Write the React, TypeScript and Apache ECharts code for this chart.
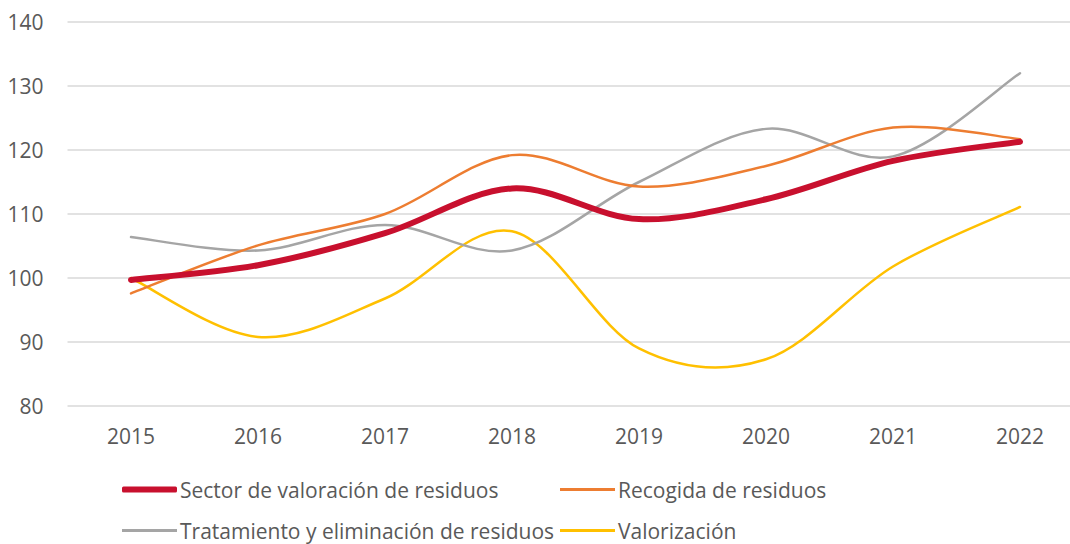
import React, { useEffect, useRef } from "react";
import * as echarts from "echarts";

const years = ["2015", "2016", "2017", "2018", "2019", "2020", "2021", "2022"];
const sectorValoracion = [99.7, 102.0, 107.0, 114.0, 109.2, 112.3, 118.3, 121.3];
const recogida = [97.6, 105.1, 110.0, 119.2, 114.3, 117.5, 123.5, 121.7];
const tratamiento = [106.4, 104.3, 108.3, 104.3, 115.0, 123.3, 119.0, 132.0];
const valorizacion = [100.0, 90.8, 96.8, 107.3, 89.0, 87.3, 101.8, 111.1];
const yTicks = { min: 80, max: 140, interval: 10 };

const names = [
  "Sector de valoración de residuos",
  "Recogida de residuos",
  "Tratamiento y eliminación de residuos",
  "Valorización",
];
const colors = ["#C8102E", "#ED7D31", "#A5A5A5", "#FFC000"];
const widths = [6, 2.5, 2.5, 2.5];
const values = [sectorValoracion, recogida, tratamiento, valorizacion];

const FONT = "'Open Sans', sans-serif";
const TEXT = "#595959";

function smoothPath(pts: number[][]): string {
  // Catmull-Rom style Bezier (Excel-like smoothing)
  let d = `M${pts[0][0]},${pts[0][1]}`;
  for (let i = 0; i < pts.length - 1; i++) {
    const p0 = pts[Math.max(0, i - 1)];
    const p1 = pts[i];
    const p2 = pts[i + 1];
    const p3 = pts[Math.min(pts.length - 1, i + 2)];
    const c1x = p1[0] + (p2[0] - p0[0]) / 6;
    const c1y = p1[1] + (p2[1] - p0[1]) / 6;
    const c2x = p2[0] - (p3[0] - p1[0]) / 6;
    const c2y = p2[1] - (p3[1] - p1[1]) / 6;
    d += ` C${c1x},${c1y} ${c2x},${c2y} ${p2[0]},${p2[1]}`;
  }
  return d;
}

export default function App() {
  const ref = useRef<HTMLDivElement>(null);
  useEffect(() => {
    if (!ref.current) return;
    const chart = echarts.init(ref.current, null, { renderer: "svg" });
    const legendPos = [
      { left: 122, top: 479 },
      { left: 560, top: 479 },
      { left: 122, top: 520 },
      { left: 560, top: 520 },
    ];
    chart.setOption({
      animation: false,
      backgroundColor: "#FFFFFF",
      grid: {
        left: 67.5,
        right: -13.5,
        top: 22,
        bottom: 138,
        containLabel: false,
        outerBoundsMode: "none",
      },
      legend: names.map((n, i) => ({
        data: [{ name: n, icon: i === 0 ? "roundRect" : "rect" }],
        left: legendPos[i].left,
        top: legendPos[i].top,
        padding: 0,
        itemWidth: 55,
        itemHeight: i === 0 ? 6 : 3,
        itemGap: 0,
        textStyle: { fontFamily: FONT, fontSize: 21, color: TEXT, padding: [0, 0, 0, -2] },
        selectedMode: false,
      })),
      xAxis: {
        type: "category",
        data: years,
        boundaryGap: true,
        axisLine: { show: false },
        axisTick: { show: false },
        axisLabel: { fontFamily: FONT, fontSize: 21, color: TEXT, margin: 19 },
      },
      yAxis: {
        type: "value",
        min: yTicks.min,
        max: yTicks.max,
        interval: yTicks.interval,
        axisLine: { show: false },
        axisTick: { show: false },
        axisLabel: { fontFamily: FONT, fontSize: 21, color: TEXT, margin: 24 },
        splitLine: { lineStyle: { color: "#D9D9D9", width: 1.5 } },
      },
      series: names.map((n, i) => ({
        name: n,
        type: "custom",
        z: 10 - i,
        itemStyle: { color: colors[i] },
        data: values[i].map((v, k) => [k, v]),
        encode: { x: 0, y: 1 },
        clip: false,
        renderItem: (params: any, api: any) => {
          if (params.dataIndex !== 0) return null;
          const pts = values[i].map((v, k) => api.coord([k, v]));
          return {
            type: "path",
            shape: { pathData: smoothPath(pts) },
            style: {
              fill: "none",
              stroke: colors[i],
              lineWidth: widths[i],
              lineCap: "round",
              lineJoin: "round",
            },
            silent: true,
          };
        },
      })),
    });
    return () => chart.dispose();
  }, []);
  return (
    <div
      ref={ref}
      style={{ position: "fixed", left: 0, top: 0, width: 1070, height: 544, overflow: "hidden" }}
    />
  );
}
